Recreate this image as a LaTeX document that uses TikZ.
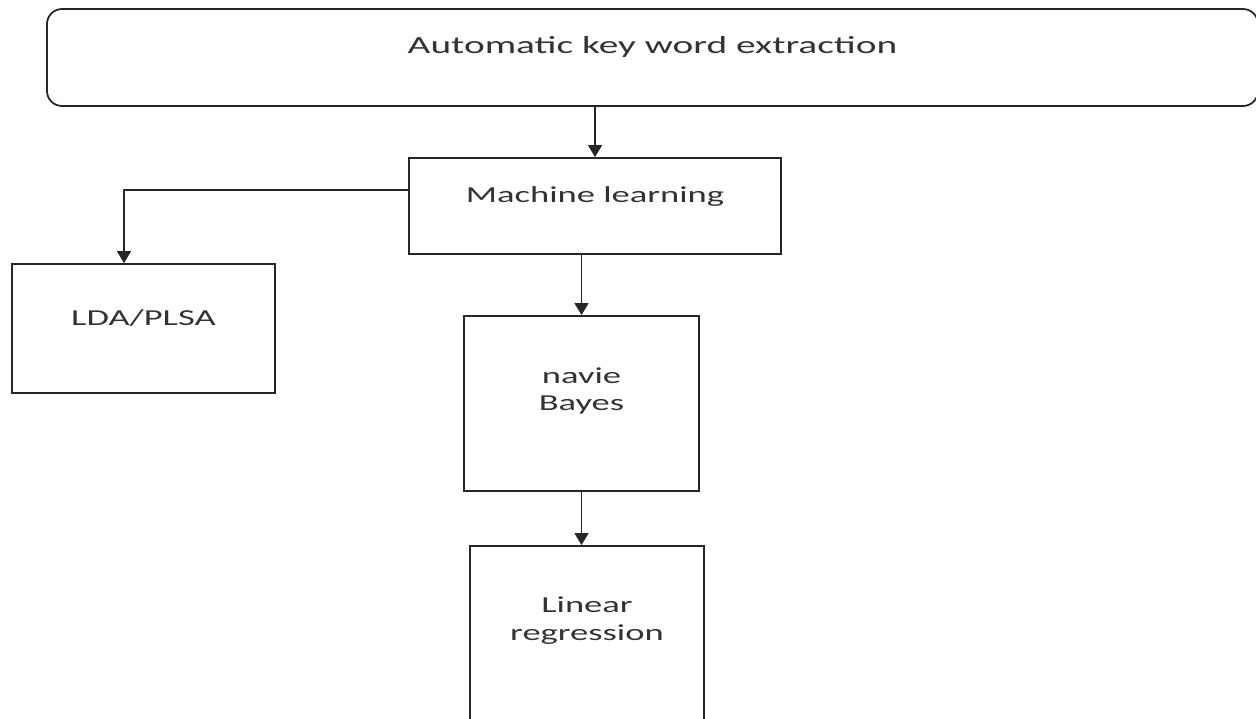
\documentclass[tikz,border=0pt]{standalone}
\usepackage{fontspec}
\setmainfont[FakeStretch=1.6]{Carlito}
\usetikzlibrary{positioning, shapes, arrows.meta}

\begin{document}
\begin{tikzpicture}[>={Triangle[width=0.28cm,length=0.24cm]}, line width=0.8pt,
    box/.style={draw=black!85, rectangle, line width=1pt},
    every label/.style={align=center, text=black!80, font=\fontsize{13}{15.5}\selectfont}]
    \useasboundingbox (0,0) rectangle (25.12,-14.38);
    \clip (0,0) rectangle (25.12,-14.38);
    % Boxes for keyword extraction diagram
    \node[box, rounded corners=0.3cm, minimum width=24.22cm, minimum height=1.94cm,
        label={[yshift=0.21cm, font=\fontsize{14}{17}\selectfont]center:Automatic key word extraction}] (AKE) at (13.05,-1.15) {};
    \node[box, minimum width=7.44cm, minimum height=1.92cm, label={[yshift=0.18cm]center:Machine learning}] (ML) at (11.9,-4.12) {};
    \node[box, minimum width=5.26cm, minimum height=2.58cm, label={[yshift=0.21cm]center:LDA/PLSA}] (LDA) at (2.87,-6.57) {};
    \node[box, minimum width=4.7cm, minimum height=3.5cm, label={[yshift=0.25cm]center:navie\\Bayes}] (NB) at (11.63,-8.07) {};
    \node[box, minimum width=4.68cm, minimum height=3.5cm, label={[yshift=0.26cm]center:Linear\\regression}] (LR) at (11.74,-12.67) {};

    % Arrows for keyword extraction diagram
    \draw[->, black!85] (ML.north |- AKE.south) -- (ML.north);
    \draw[->, black!85] ([yshift=0.32cm]ML.west) -| ([xshift=-0.39cm]LDA.north);
    \draw[->, black!85] (NB.north |- ML.south) -- (NB.north);
    \draw[->, black!85] (NB.south) -- (NB.south |- LR.north);
\end{tikzpicture}
\end{document}
